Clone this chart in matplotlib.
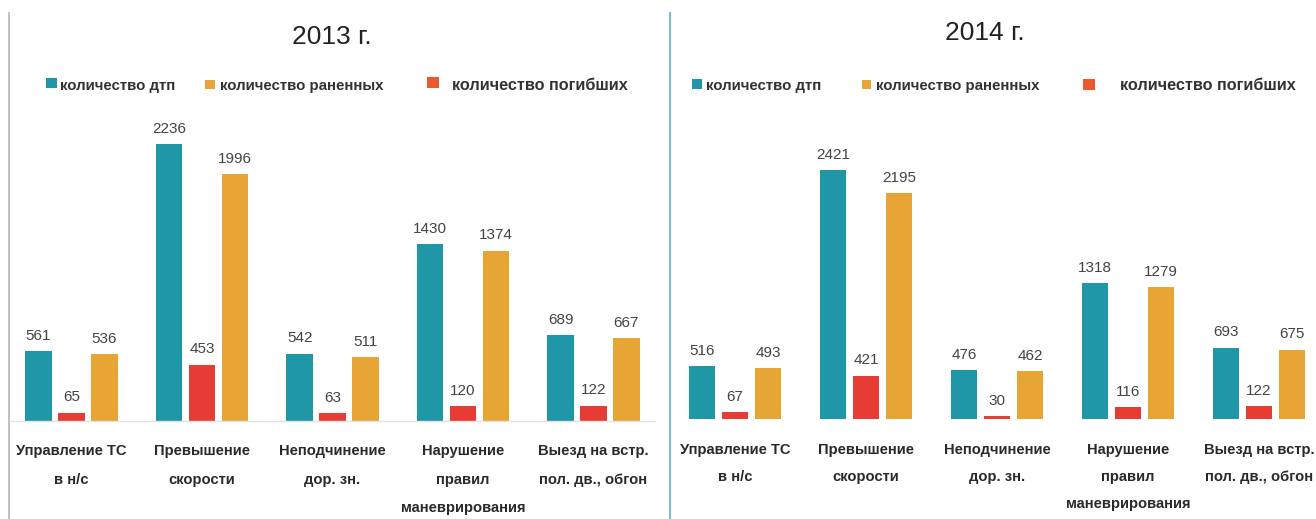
import numpy as np
import matplotlib.pyplot as plt
from matplotlib.patches import Rectangle
from matplotlib.lines import Line2D

plt.rcParams['font.family'] = ['Liberation Sans', 'DejaVu Sans']

# road accident statistics by violation type
categories = ["Управление ТС\nв н/с", "Превышение\nскорости", "Неподчинение\nдор. зн.",
              "Нарушение\nправил\nманеврирования", "Выезд на встр.\nпол. дв., обгон"]

dtp_2013 = [561, 2236, 542, 1430, 689]
killed_2013 = [65, 453, 63, 120, 122]
injured_2013 = [536, 1996, 511, 1374, 667]

dtp_2014 = [516, 2421, 476, 1318, 693]
killed_2014 = [67, 421, 30, 116, 122]
injured_2014 = [493, 2195, 462, 1279, 675]

legend_labels = ["количество дтп", "количество раненных", "количество погибших"]

TEAL = '#1f97a6'
RED = '#e73c34'
ORANGE = '#e7a536'
LEG_RED = '#ea5a2e'

W, H = 1316, 519
fig = plt.figure(figsize=(W / 100, H / 100), dpi=100)


def px(x0, y0, w, h):
    # pixel box (from top-left) -> figure fraction
    return [x0 / W, 1 - (y0 + h) / H, w / W, h / H]


def draw_panel(ax, dtp, killed, injured, xlim, ymax, baseline, spacing):
    x = np.arange(len(categories))
    step, width = 0.252, 0.203
    b1 = ax.bar(x - step, dtp, width, color=TEAL)
    b2 = ax.bar(x, killed, width, color=RED)
    b3 = ax.bar(x + step, injured, width, color=ORANGE)
    for b in (b1, b2, b3):
        ax.bar_label(b, padding=6, fontsize=11, color='#444444')
    ax.set_xlim(*xlim)
    ax.set_ylim(0, ymax)
    ax.set_xticks(x, categories, linespacing=spacing, fontweight='bold')
    ax.tick_params(axis='x', length=0, pad=17, labelsize=10.6, labelcolor='#2a2a2a')
    ax.set_yticks([])
    for s in ('top', 'left', 'right'):
        ax.spines[s].set_visible(False)
    if baseline:
        ax.spines['bottom'].set_color('#e2e2e2')
        ax.spines['bottom'].set_linewidth(1.0)
    else:
        ax.spines['bottom'].set_visible(False)
    ax.patch.set_alpha(0)


ax1 = fig.add_axes(px(10, 100, 645, 320.7))
draw_panel(ax1, dtp_2013, killed_2013, injured_2013, (-0.471, 4.471), 2593, True, 2.3)

ax2 = fig.add_axes(px(670, 100, 646, 319))
draw_panel(ax2, dtp_2014, killed_2014, injured_2014, (-0.496, 4.435), 3100, False, 2.2)

# panel titles
fig.text(332 / W, 1 - 37 / H, "2013 г.", ha='center', va='center', fontsize=19, color='#222222')
fig.text(985 / W, 1 - 33 / H, "2014 г.", ha='center', va='center', fontsize=19, color='#222222')


def legend_item(sx, sy, sw, sh, color, tx, label, size):
    fig.add_artist(Rectangle((sx / W, 1 - (sy + sh) / H), sw / W, sh / H,
                             transform=fig.transFigure, color=color, lw=0))
    fig.text(tx / W, 1 - 86 / H, label, ha='left', va='center', fontsize=size,
             fontweight='bold', color='#333333')


legend_item(46, 78, 11, 10, TEAL, 60, legend_labels[0], 10.8)
legend_item(205, 80, 10, 9, ORANGE, 220, legend_labels[1], 10.8)
legend_item(427, 77, 12, 11, LEG_RED, 452, legend_labels[2], 11.7)

legend_item(692, 79, 10, 10, TEAL, 706, legend_labels[0], 10.8)
legend_item(862, 80, 9, 9, ORANGE, 876, legend_labels[1], 10.8)
legend_item(1083, 79, 12, 11, LEG_RED, 1120, legend_labels[2], 11.7)

# frame lines
fig.add_artist(Line2D([9 / W, 9 / W], [0, 1 - 13 / H], transform=fig.transFigure,
                      color='#b5b5b5', lw=1.2))
fig.add_artist(Line2D([670 / W, 670 / W], [0, 1 - 13 / H], transform=fig.transFigure,
                      color='#76c3cb', lw=1.5))

fig.savefig('out.png', dpi=100)
